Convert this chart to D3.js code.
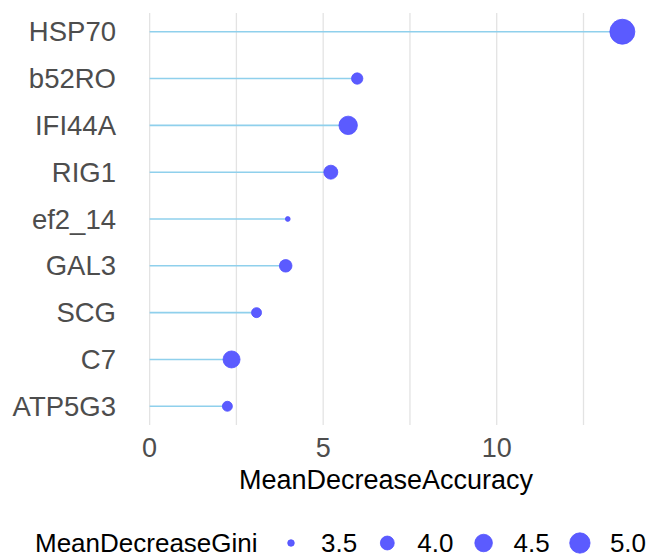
<!DOCTYPE html>
<html>
<head>
<meta charset="utf-8">
<script src="https://cdn.jsdelivr.net/npm/d3@7"></script>
<style>
  body { margin: 0; background: #fff; }
  svg { display: block; font-family: "Liberation Sans", Arial, sans-serif; }
</style>
</head>
<body>
<svg id="chart" width="646" height="558"></svg>
<script>
// variables, top to bottom
var genes = ["HSP70", "b52RO", "IFI44A", "RIG1", "ef2_14", "GAL3", "SCG", "C7", "ATP5G3"]
// MeanDecreaseAccuracy (x position)
var accuracy = [13.62, 5.98, 5.72, 5.22, 3.98, 3.92, 3.08, 2.36, 2.24]
// MeanDecreaseGini (point size)
var gini = [6.05, 3.75, 4.65, 4.01, 3.48, 3.86, 3.65, 4.42, 3.65]
var xTicks = [0, 5, 10]
var xMinor = [2.5, 7.5, 12.5]
var legendBreaks = [3.5, 4.0, 4.5, 5.0]

var svg = d3.select("#chart")
var panel = { left: 126, right: 646, top: 13, bottom: 425 }

var rows = genes.map(function (g, i) {
    return { gene: g, acc: accuracy[i], gini: gini[i] }
})

// x scale with ggplot style 5% expansion
var xMax = d3.max(accuracy)
var pad = xMax * 0.05
var x = d3.scaleLinear()
          .domain([-pad, xMax + pad])
          .range([panel.left, panel.right])

var y = d3.scalePoint()
          .domain(genes)
          .range([panel.top, panel.bottom])
          .padding(0.4)

// size: area-like mapping, r = rMin + k * sqrt(v - min)
var giniMin = d3.min(gini), giniMax = d3.max(gini)
var rSqrt = d3.scaleSqrt()
              .domain([0, giniMax - giniMin])
              .range([2.4, 12.5])
function radius(v) { return rSqrt(Math.max(0, v - giniMin)) }

var pointFill = "#5b5bff", pointStroke = "#5050ff"

// grid
svg.append("g")
   .selectAll("line")
   .data(xTicks.concat(xMinor))
   .join("line")
   .attr("x1", function (d) { return x(d) })
   .attr("x2", function (d) { return x(d) })
   .attr("y1", panel.top)
   .attr("y2", panel.bottom)
   .attr("stroke", "#e3e3e3")
   .attr("stroke-width", 1.3)

// segments
svg.append("g")
   .selectAll("line")
   .data(rows)
   .join("line")
   .attr("x1", x(0))
   .attr("x2", function (d) { return x(d.acc) })
   .attr("y1", function (d) { return y(d.gene) })
   .attr("y2", function (d) { return y(d.gene) })
   .attr("stroke", "#8fd0ec")
   .attr("stroke-width", 1.6)

// points
svg.append("g")
   .selectAll("circle")
   .data(rows)
   .join("circle")
   .attr("cx", function (d) { return x(d.acc) })
   .attr("cy", function (d) { return y(d.gene) })
   .attr("r", function (d) { return radius(d.gini) })
   .attr("fill", pointFill)
   .attr("stroke", pointStroke)
   .attr("stroke-width", 0.8)

// y labels
svg.append("g")
   .selectAll("text")
   .data(genes)
   .join("text")
   .attr("x", 116)
   .attr("y", function (d) { return y(d) })
   .attr("text-anchor", "end")
   .attr("dominant-baseline", "central")
   .attr("font-size", 27.5)
   .attr("fill", "#4d4d4d")
   .text(function (d) { return d })

// x tick labels
svg.append("g")
   .selectAll("text")
   .data(xTicks)
   .join("text")
   .attr("x", function (d) { return x(d) })
   .attr("y", 457)
   .attr("text-anchor", "middle")
   .attr("font-size", 27)
   .attr("fill", "#4d4d4d")
   .text(function (d) { return d })

// x title
svg.append("text")
   .attr("x", (panel.left + panel.right) / 2)
   .attr("y", 489)
   .attr("text-anchor", "middle")
   .attr("font-size", 27)
   .attr("fill", "#000")
   .text("MeanDecreaseAccuracy")

// size legend
var legend = svg.append("g").attr("transform", "translate(0,543)")
legend.append("text")
      .attr("x", 35)
      .attr("y", 0)
      .attr("dominant-baseline", "central")
      .attr("font-size", 26)
      .attr("fill", "#000")
      .text("MeanDecreaseGini")

var keys = legend.selectAll("g.key")
                 .data(legendBreaks)
                 .join("g")
                 .attr("class", "key")
                 .attr("transform", function (d, i) { return "translate(" + (291 + i * 96.3) + ",0)" })
keys.append("circle")
    .attr("r", function (d) { return radius(d) })
    .attr("fill", pointFill)
    .attr("stroke", pointStroke)
    .attr("stroke-width", 0.8)
keys.append("text")
    .attr("x", 30)
    .attr("dominant-baseline", "central")
    .attr("font-size", 26)
    .attr("fill", "#000")
    .text(function (d) { return d.toFixed(1) })
</script>
</body>
</html>
